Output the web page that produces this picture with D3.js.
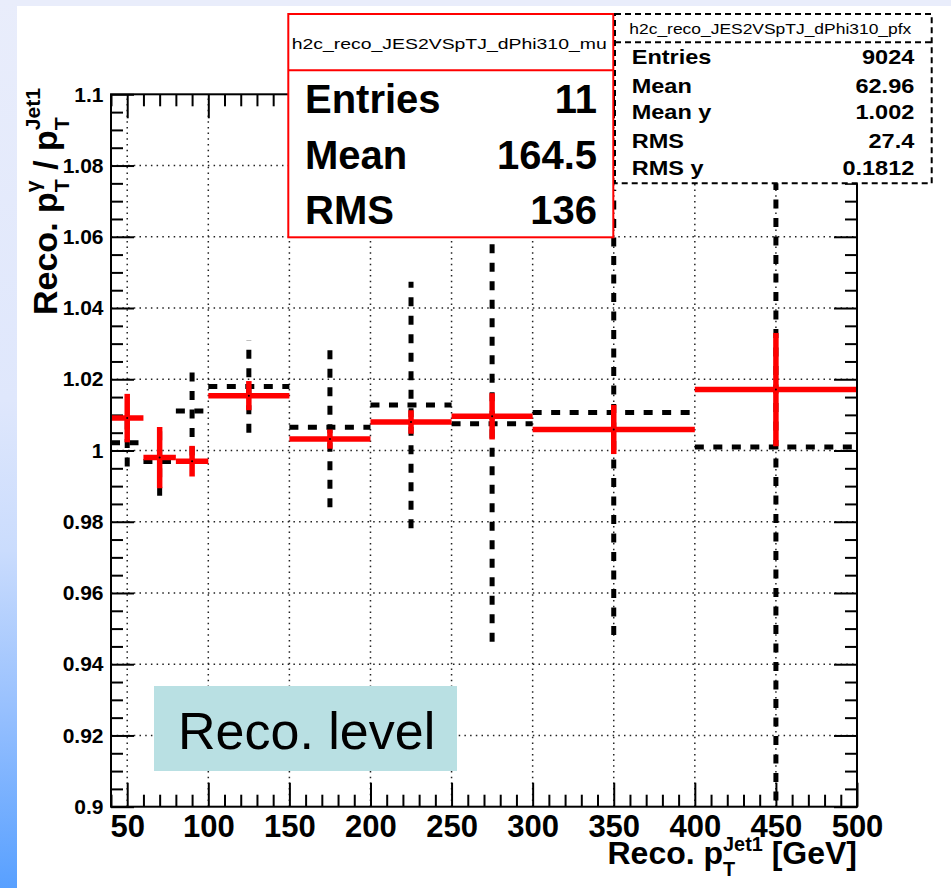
<!DOCTYPE html>
<html>
<head>
<meta charset="utf-8">
<script src="https://cdn.jsdelivr.net/npm/d3@7"></script>
<style>
  html, body { margin: 0; padding: 0; background: #fff; }
  svg { display: block; font-family: "Liberation Sans", Arial, Helvetica, sans-serif; }
</style>
</head>
<body>
<svg id="chart" width="951" height="888"></svg>
<script>
// ---- data ----
const binLow  = [40, 60, 80, 100, 150, 200, 250, 300, 400];
const binHigh = [60, 80, 100, 150, 200, 250, 300, 400, 500];
const binCenter = [50, 70, 90, 125, 175, 225, 275, 350, 450];

// h2c_reco_JES2VSpTJ_dPhi310_mu (red)
const muValues = [1.0091, 0.9980, 0.9970, 1.0154, 1.0032, 1.0080, 1.0096, 1.0059, 1.0171];
const muErrors = [0.0068, 0.0086, 0.0043, 0.0041, 0.0027, 0.0033, 0.0065, 0.0069, 0.0159];

// h2c_reco_JES2VSpTJ_dPhi310_pfx (black dashed profile)
const pfxValues = [1.0022, 0.9969, 1.0111, 1.0180, 1.0065, 1.0128, 1.0075, 1.0107, 1.0010];
const pfxErrors = [0.0067, 0.0096, 0.0125, 0.0130, 0.0224, 0.0346, 0.0612, 0.0625, 0.1200];

const xTicks = [50, 100, 150, 200, 250, 300, 350, 400, 450, 500];
const xTickLabels = ["50", "100", "150", "200", "250", "300", "350", "400", "450", "500"];
const yTicks = [0.9, 0.92, 0.94, 0.96, 0.98, 1.0, 1.02, 1.04, 1.06, 1.08, 1.1];
const yTickLabels = ["0.9", "0.92", "0.94", "0.96", "0.98", "1", "1.02", "1.04", "1.06", "1.08", "1.1"];

const muStatLabels = ["Entries", "Mean", "RMS"];
const muStatValues = ["11", "164.5", "136"];
const pfxStatLabels = ["Entries", "Mean", "Mean y", "RMS", "RMS y"];
const pfxStatValues = ["9024", "62.96", "1.002", "27.4", "0.1812"];

// ---- layout ----
const svg = d3.select("#chart");
const W = 951, H = 888;
const frame = { left: 111, right: 857, top: 94.3, bottom: 806.7 };

const x = d3.scaleLinear().domain([40, 500]).range([frame.left, frame.right]);
const y = d3.scaleLinear().domain([0.9, 1.1]).range([frame.bottom, frame.top]);

// slide background: lavender band on top, blue gradient strip on the left
const defs = svg.append("defs");
const grad = defs.append("linearGradient").attr("id", "sideGrad")
  .attr("x1", 0).attr("y1", 0).attr("x2", 0).attr("y2", 1);
[[0, "#e9edfb"], [0.45, "#dfe7fc"], [0.62, "#cadcfd"], [0.8, "#97c0fe"], [1, "#58a0ff"]]
  .forEach(([o, c]) => grad.append("stop").attr("offset", o).attr("stop-color", c));
svg.append("rect").attr("x", 0).attr("y", 0).attr("width", W).attr("height", H).attr("fill", "#ffffff");
svg.append("rect").attr("x", 0).attr("y", 0).attr("width", W).attr("height", 6).attr("fill", "#e9edfb");
svg.append("rect").attr("x", 0).attr("y", 0).attr("width", 17).attr("height", H).attr("fill", "url(#sideGrad)");

// ---- grid ----
const grid = svg.append("g").attr("stroke", "#222").attr("stroke-width", 1.5)
  .attr("stroke-dasharray", "1.5,4.2");
grid.selectAll("line.gx").data(xTicks.filter(v => v < 500)).join("line")
  .attr("x1", d => x(d)).attr("x2", d => x(d))
  .attr("y1", frame.bottom).attr("y2", frame.top);
grid.selectAll("line.gy").data(yTicks.filter(v => v > 0.9 && v < 1.1)).join("line")
  .attr("x1", frame.left).attr("x2", frame.right)
  .attr("y1", d => y(d)).attr("y2", d => y(d));

// ---- axes (ticks point inward on all four sides) ----
const xMinor = d3.range(40, 501, 10).filter(v => v % 50 !== 0);
const yMinor = d3.range(0, 41).map(i => +(0.9 + i * 0.005).toFixed(3))
  .filter(v => !yTicks.some(t => Math.abs(t - v) < 1e-6));

function styleAxis(g) {
  g.select(".domain").remove();
  g.selectAll(".tick line").attr("stroke", "#000").attr("stroke-width", 2);
}

svg.append("g").attr("transform", `translate(0,${frame.bottom})`)
  .call(d3.axisBottom(x).tickValues(xTicks).tickSizeInner(-24).tickSizeOuter(0).tickPadding(8)
    .tickFormat((d, i) => xTickLabels[i]))
  .call(styleAxis)
  .call(g => g.selectAll("text").attr("font-size", 31).attr("font-weight", "bold")
    .attr("fill", "#000").attr("font-family", "Liberation Sans, Arial, sans-serif"));
svg.append("g").attr("transform", `translate(0,${frame.bottom})`)
  .call(d3.axisBottom(x).tickValues(xMinor).tickSizeInner(-12).tickSizeOuter(0).tickFormat(""))
  .call(styleAxis);
svg.append("g").attr("transform", `translate(0,${frame.top})`)
  .call(d3.axisTop(x).tickValues(xTicks).tickSizeInner(-24).tickSizeOuter(0).tickFormat(""))
  .call(styleAxis);
svg.append("g").attr("transform", `translate(0,${frame.top})`)
  .call(d3.axisTop(x).tickValues(xMinor).tickSizeInner(-12).tickSizeOuter(0).tickFormat(""))
  .call(styleAxis);

svg.append("g").attr("transform", `translate(${frame.left},0)`)
  .call(d3.axisLeft(y).tickValues(yTicks).tickSizeInner(-23).tickSizeOuter(0).tickPadding(7.5)
    .tickFormat((d, i) => yTickLabels[i]))
  .call(styleAxis)
  .call(g => g.selectAll("text").attr("font-size", 21).attr("font-weight", "bold")
    .attr("fill", "#000").attr("font-family", "Liberation Sans, Arial, sans-serif"));
svg.append("g").attr("transform", `translate(${frame.left},0)`)
  .call(d3.axisLeft(y).tickValues(yMinor).tickSizeInner(-12).tickSizeOuter(0).tickFormat(""))
  .call(styleAxis);
svg.append("g").attr("transform", `translate(${frame.right},0)`)
  .call(d3.axisRight(y).tickValues(yTicks).tickSizeInner(-23).tickSizeOuter(0).tickFormat(""))
  .call(styleAxis);
svg.append("g").attr("transform", `translate(${frame.right},0)`)
  .call(d3.axisRight(y).tickValues(yMinor).tickSizeInner(-12).tickSizeOuter(0).tickFormat(""))
  .call(styleAxis);

// ---- data marks, clipped to the frame ----
defs.append("clipPath").attr("id", "plotClip").append("rect")
  .attr("x", frame.left).attr("y", frame.top)
  .attr("width", frame.right - frame.left).attr("height", frame.bottom - frame.top);
const plot = svg.append("g").attr("clip-path", "url(#plotClip)");

const pfxData = binCenter.map((c, i) => ({ lo: binLow[i], hi: binHigh[i], c, v: pfxValues[i], e: pfxErrors[i] }));
const muData = binCenter.map((c, i) => ({ lo: binLow[i], hi: binHigh[i], c, v: muValues[i], e: muErrors[i] }));

const pfxG = plot.append("g").attr("stroke", "#000").attr("stroke-width", 5)
  .attr("stroke-dasharray", "9,9.5").attr("fill", "none");
pfxG.selectAll("line.h").data(pfxData).join("line").attr("class", "h")
  .attr("x1", d => x(d.lo)).attr("x2", d => x(d.hi))
  .attr("y1", d => y(d.v)).attr("y2", d => y(d.v));
pfxG.selectAll("line.v").data(pfxData).join("line").attr("class", "v")
  .attr("x1", d => x(d.c)).attr("x2", d => x(d.c))
  .attr("y1", d => y(d.v - d.e)).attr("y2", d => y(d.v + d.e));

const muG = plot.append("g").attr("stroke", "#ff0000").attr("stroke-width", 5.5).attr("fill", "none");
muG.selectAll("line.h").data(muData).join("line").attr("class", "h")
  .attr("x1", d => x(d.lo)).attr("x2", d => x(d.hi))
  .attr("y1", d => y(d.v)).attr("y2", d => y(d.v));
muG.selectAll("line.v").data(muData).join("line").attr("class", "v")
  .attr("x1", d => x(d.c)).attr("x2", d => x(d.c))
  .attr("y1", d => y(d.v - d.e)).attr("y2", d => y(d.v + d.e));
plot.selectAll("circle.pt").data(muData).join("circle").attr("class", "pt")
  .attr("cx", d => x(d.c)).attr("cy", d => y(d.v)).attr("r", 1).attr("fill", "#000");

// frame
svg.append("rect").attr("x", frame.left).attr("y", frame.top)
  .attr("width", frame.right - frame.left).attr("height", frame.bottom - frame.top)
  .attr("fill", "none").attr("stroke", "#000").attr("stroke-width", 2);

// ---- axis titles with sub/superscripts ----
function latex(parent, pieces, size, supShift) {
  const g = parent.append("g").attr("font-weight", "bold").attr("font-size", size).attr("fill", "#000");
  let cx = 0;
  pieces.forEach(p => {
    if (p.text !== undefined) {
      const t = g.append("text").attr("x", cx).attr("y", 0).text(p.text)
        .style("white-space", "pre");
      cx += t.node().getComputedTextLength();
    } else {
      const s = size * 0.62;
      const sub = g.append("text").attr("x", cx).attr("y", size * 0.36).attr("font-size", s).text(p.sub);
      const sup = g.append("text").attr("x", cx).attr("y", -size * supShift).attr("font-size", s).text(p.sup);
      cx += Math.max(sub.node().getComputedTextLength(), sup.node().getComputedTextLength());
    }
  });
  return { g, width: cx };
}

const xt = latex(svg, [{ text: "Reco. p" }, { sub: "T", sup: "Jet1" }, { text: " [GeV]" }], 32, 0.42);
xt.g.attr("transform", `translate(${frame.right - xt.width},864)`);

const yt = latex(svg, [{ text: "Reco. p" }, { sub: "T", sup: "\u03b3" }, { text: " / p" }, { sub: "T", sup: "Jet1" }], 34, 0.5);
yt.g.attr("transform", `translate(57,${88 + yt.width}) rotate(-90)`);

// ---- stat boxes ----
const muBox = svg.append("g");
muBox.append("rect").attr("x", 288.3).attr("y", 14).attr("width", 325).attr("height", 223.3)
  .attr("fill", "#fff").attr("stroke", "#ff0000").attr("stroke-width", 2);
muBox.append("line").attr("x1", 288.3).attr("x2", 613.3).attr("y1", 70.3).attr("y2", 70.3)
  .attr("stroke", "#ff0000").attr("stroke-width", 2);
muBox.append("text").attr("x", 291.7).attr("y", 48.5).attr("font-size", 14.5)
  .attr("textLength", 315).attr("lengthAdjust", "spacingAndGlyphs")
  .text("h2c_reco_JES2VSpTJ_dPhi310_mu");
const muRows = [113.3, 168.5, 224];
muStatLabels.forEach((lab, i) => {
  muBox.append("text").attr("x", 305).attr("y", muRows[i]).attr("font-size", 40)
    .attr("font-weight", "bold").text(lab);
  muBox.append("text").attr("x", 597).attr("y", muRows[i]).attr("font-size", 40)
    .attr("font-weight", "bold").attr("text-anchor", "end").text(muStatValues[i]);
});

const pfxBox = svg.append("g");
pfxBox.append("rect").attr("x", 615).attr("y", 14).attr("width", 316.7).attr("height", 169.3)
  .attr("fill", "#fff").attr("stroke", "#000").attr("stroke-width", 2).attr("stroke-dasharray", "6,4");
pfxBox.append("line").attr("x1", 615).attr("x2", 931.7).attr("y1", 42.3).attr("y2", 42.3)
  .attr("stroke", "#000").attr("stroke-width", 2).attr("stroke-dasharray", "6,4");
pfxBox.append("text").attr("x", 629.3).attr("y", 34.3).attr("font-size", 14)
  .attr("textLength", 282).attr("lengthAdjust", "spacingAndGlyphs")
  .text("h2c_reco_JES2VSpTJ_dPhi310_pfx");
const pfxRows = [64.3, 92.7, 119.3, 148.3, 175];
pfxStatLabels.forEach((lab, i) => {
  pfxBox.append("text").attr("transform", `translate(631.7,${pfxRows[i]}) scale(1.12,1)`)
    .attr("font-size", 21).attr("font-weight", "bold").text(lab);
  pfxBox.append("text").attr("transform", `translate(914.3,${pfxRows[i]}) scale(1.12,1)`)
    .attr("font-size", 21).attr("font-weight", "bold").attr("text-anchor", "end").text(pfxStatValues[i]);
});

// ---- "Reco. level" label ----
svg.append("rect").attr("x", 154).attr("y", 686).attr("width", 303).attr("height", 85).attr("fill", "#b9e0e3");
svg.append("text").attr("x", 178).attr("y", 749).attr("font-size", 52).attr("fill", "#000").text("Reco. level");
</script>
</body>
</html>
